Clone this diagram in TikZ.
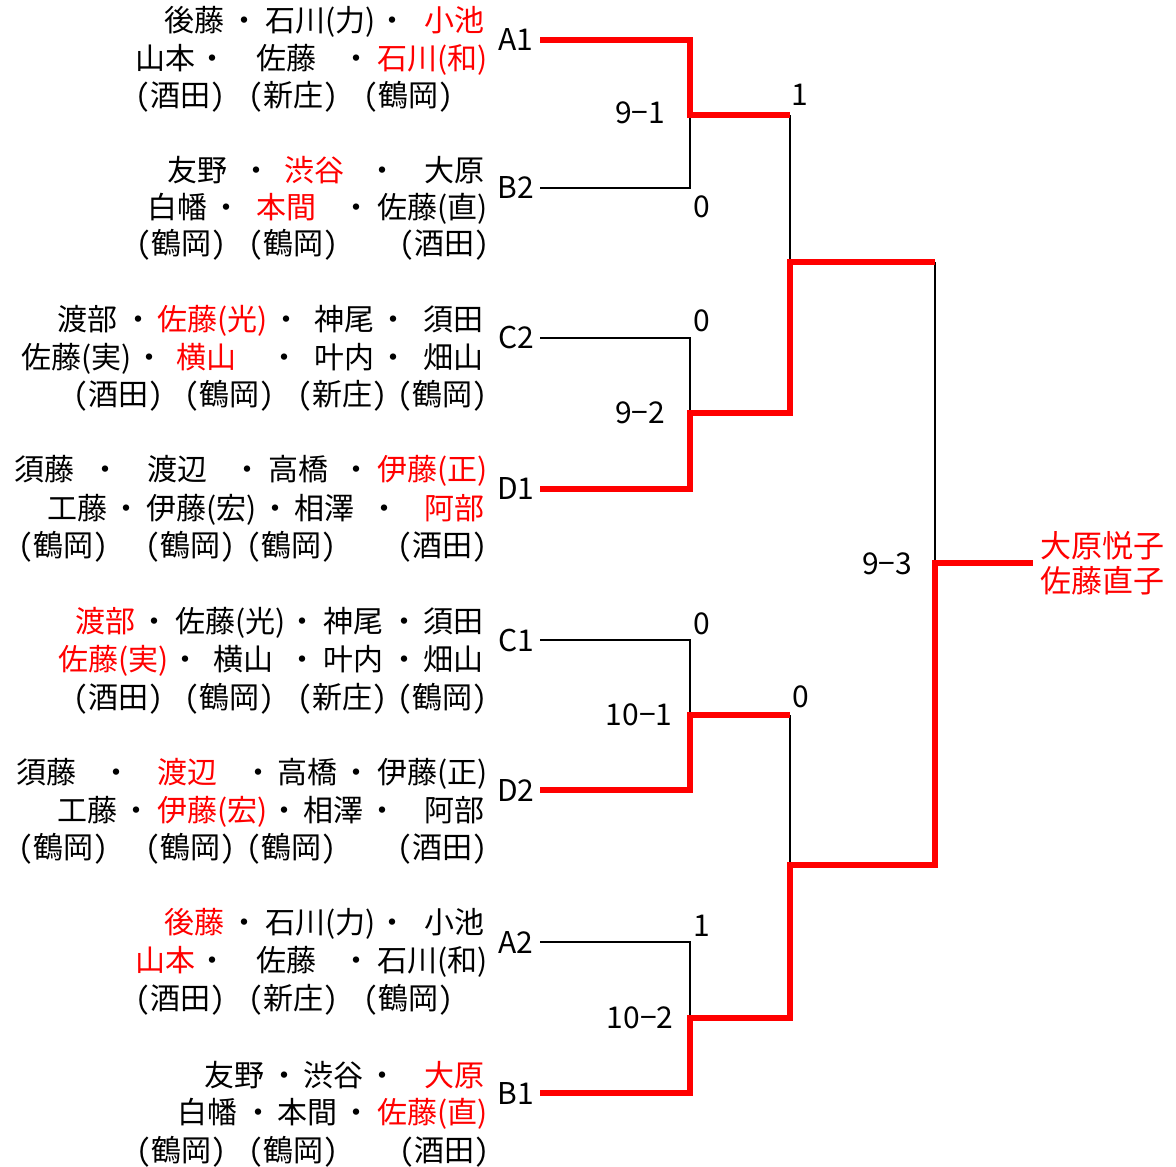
\documentclass[tikz,border=0pt]{standalone}
\usepackage{fontspec}
\setmainfont{Noto Sans CJK JP}
\newfontfamily\hw[RawFeature=+hwid]{Noto Sans CJK JP}
\newcommand\won[1]{\textcolor{red}{#1}}
\newcommand\aff[1]{\makebox[87pt]{\hw(#1)}}

\begin{document}
\begin{tikzpicture}[x=1pt, y=-1pt,
    every node/.style={font=\fontsize{30}{36}\selectfont},
    pair/.style={anchor=base east, inner sep=0pt},
    seed/.style={minimum width=48pt, inner sep=0pt},
    score/.style={inner sep=0pt},
    win/.style={red, line width=6.5pt},
    lose/.style={line width=2.2pt}]
    \useasboundingbox (0,0) rectangle (1176,1167);

    % teams
    \node[pair] (a1one) at (485,31) {後藤\hspace{5pt}・\hspace{6pt}石川(力)\hspace{2pt}・\hspace{17pt}\won{小池}};
    \node[pair] (a1two) at (488,69) {山本\hspace{2pt}・\hspace{29pt}佐藤\hspace{25pt}・\hspace{6pt}\won{石川(和)}};
    \node[pair] (a1club) at (452,106) {\aff{酒田}\hspace{26pt}\aff{新庄}\hspace{28pt}\aff{鶴岡}};

    \node[pair] (b2one) at (485,181) {友野\hspace{14pt}・\hspace{13pt}\won{渋谷}\hspace{23pt}・\hspace{27pt}大原};
    \node[pair] (b2two) at (488,218) {白幡\hspace{4pt}・\hspace{15pt}\won{本間}\hspace{25pt}・\hspace{6pt}佐藤(直)};
    \node[pair] (b2club) at (488,254) {\aff{鶴岡}\hspace{25pt}\aff{鶴岡}\hspace{64pt}\aff{酒田}};

    \node[pair] (c2one) at (484,330) {渡部\hspace{6pt}・\hspace{4pt}\won{佐藤(光)}\hspace{4pt}・\hspace{13pt}神尾\hspace{4pt}・\hspace{15pt}須田};
    \node[pair] (c2two) at (484,368) {佐藤(実)\hspace{3pt}・\hspace{12pt}\won{横山}\hspace{33pt}・\hspace{15pt}叶内\hspace{4pt}・\hspace{15pt}畑山};
    \node[pair] (c2club) at (486,405) {\aff{酒田}\hspace{24pt}\aff{鶴岡}\hspace{26pt}\aff{新庄}\hspace{13pt}\aff{鶴岡}};

    \node[pair] (d1one) at (488,480) {須藤\hspace{16pt}・\hspace{27pt}渡辺\hspace{25pt}・\hspace{6pt}高橋\hspace{13pt}・\hspace{6pt}\won{伊藤(正)}};
    \node[pair] (d1two) at (485,519) {工藤\hspace{4pt}・\hspace{5pt}伊藤(宏)\hspace{4pt}・\hspace{4pt}相澤\hspace{15pt}・\hspace{25pt}\won{阿部}};
    \node[pair] (d1club) at (486,556) {\aff{鶴岡}\hspace{40pt}\aff{鶴岡}\hspace{14pt}\aff{鶴岡}\hspace{64pt}\aff{酒田}};

    \node[pair] (c1one) at (484,632) {\won{渡部}\hspace{4pt}・\hspace{6pt}佐藤(光)\hspace{2pt}・\hspace{6pt}神尾\hspace{6pt}・\hspace{4pt}須田};
    \node[pair] (c1two) at (484,670) {\won{佐藤(実)}\hspace{2pt}・\hspace{13pt}横山\hspace{14pt}・\hspace{6pt}叶内\hspace{6pt}・\hspace{4pt}畑山};
    \node[pair] (c1club) at (486,708) {\aff{酒田}\hspace{24pt}\aff{鶴岡}\hspace{26pt}\aff{新庄}\hspace{13pt}\aff{鶴岡}};

    \node[pair] (d2one) at (488,783) {須藤\hspace{25pt}・\hspace{26pt}\won{渡辺}\hspace{26pt}・\hspace{4pt}高橋\hspace{4pt}・\hspace{6pt}伊藤(正)};
    \node[pair] (d2two) at (485,821) {工藤\hspace{4pt}・\hspace{6pt}\won{伊藤(宏)}\hspace{2pt}・\hspace{4pt}相澤\hspace{4pt}・\hspace{27pt}阿部};
    \node[pair] (d2club) at (486,858) {\aff{鶴岡}\hspace{40pt}\aff{鶴岡}\hspace{14pt}\aff{鶴岡}\hspace{64pt}\aff{酒田}};

    \node[pair] (a2one) at (485,933) {\won{後藤}\hspace{5pt}・\hspace{6pt}石川(力)\hspace{2pt}・\hspace{17pt}小池};
    \node[pair] (a2two) at (488,971) {\won{山本}\hspace{2pt}・\hspace{29pt}佐藤\hspace{25pt}・\hspace{6pt}石川(和)};
    \node[pair] (a2club) at (452,1009) {\aff{酒田}\hspace{26pt}\aff{新庄}\hspace{28pt}\aff{鶴岡}};

    \node[pair] (b1one) at (485,1086) {友野\hspace{5pt}・\hspace{4pt}渋谷\hspace{4pt}・\hspace{27pt}\won{大原}};
    \node[pair] (b1two) at (488,1123) {白幡\hspace{6pt}・\hspace{4pt}本間\hspace{4pt}・\hspace{6pt}\won{佐藤(直)}};
    \node[pair] (b1club) at (488,1161) {\aff{鶴岡}\hspace{25pt}\aff{鶴岡}\hspace{64pt}\aff{酒田}};

    % seeds
    \node[seed] (A1) at (516,40) {A1};
    \node[seed] (B2) at (516,188) {B2};
    \node[seed] (C2) at (516,338) {C2};
    \node[seed] (D1) at (516,489) {D1};
    \node[seed] (C1) at (516,640) {C1};
    \node[seed] (D2) at (516,790) {D2};
    \node[seed] (A2) at (516,942) {A2};
    \node[seed] (B1) at (516,1093) {B1};

    \node[anchor=west, inner xsep=7pt, inner ysep=0pt, align=left, text=red,
        font=\fontsize{31}{35}\selectfont] (champ) at (1033,563) {大原悦子\\佐藤直子};

    \coordinate (j1) at (690,115);
    \coordinate (j2) at (690,413);
    \coordinate (j3) at (690,715);
    \coordinate (j4) at (690,1018);
    \coordinate (k1) at (790,262);
    \coordinate (k2) at (790,865);
    \coordinate (f) at (935,563);

    % losers
    \draw[lose] (B2.east) -| (j1);
    \draw[lose] (C2.east) -| (j2);
    \draw[lose] (C1.east) -| (j3);
    \draw[lose] (A2.east) -| (j4);
    \draw[lose] (j1 -| k1) -- (k1);
    \draw[lose] (j3 -| k2) -- (k2);
    \draw[lose] (k1 -| f) -- (f);

    % winners
    \draw[win] (A1.east) -| (j1) -- (j1 -| k1);
    \draw[win] (D1.east) -| (j2) -- (j2 -| k1) |- (k1 -| f);
    \draw[win] (D2.east) -| (j3) -- (j3 -| k2);
    \draw[win] (B1.east) -| (j4) -- (j4 -| k2) |- (k2 -| f) -- (f) -- (champ.west);

    % scores
    \node[score] (s1) at (640,113) {9−1};
    \node[score] (s2) at (702,207) {0};
    \node[score] (s3) at (800,95) {1};
    \node[score] (s4) at (702,321) {0};
    \node[score] (s5) at (640,413) {9−2};
    \node[score] (s6) at (887,564) {9−3};
    \node[score] (s7) at (702,624) {0};
    \node[score] (s8) at (639,715) {10−1};
    \node[score] (s9) at (801,697) {0};
    \node[score] (s10) at (702,926) {1};
    \node[score] (s11) at (640,1018) {10−2};
\end{tikzpicture}
\end{document}
